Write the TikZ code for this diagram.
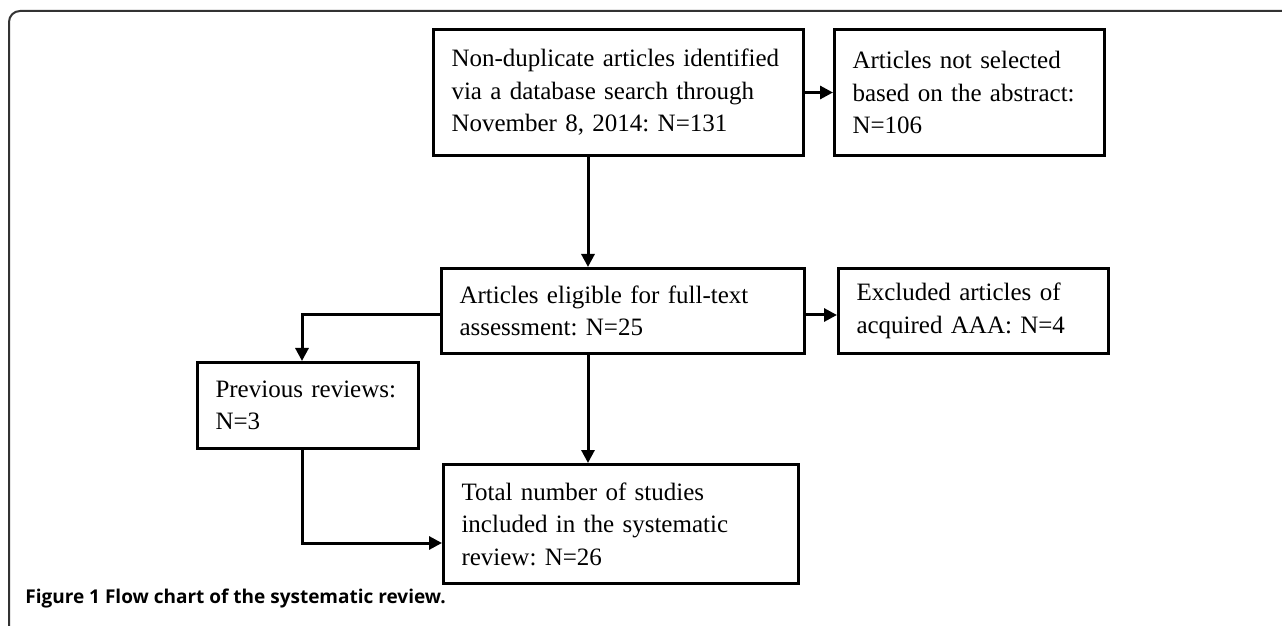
\documentclass[tikz,border=0pt]{standalone}
\usepackage{fontspec}
\setmainfont{Liberation Serif}
\newfontfamily\capfont{Open Sans}
\usepackage{tikz}
\usetikzlibrary{arrows.meta}
\frenchspacing

\begin{document}
\begin{tikzpicture}[x=1pt,y=-1pt,
  box/.style={draw,line width=1.5pt,anchor=north west,align=left,inner xsep=9pt,
    font=\fontsize{12.5}{16.25}\selectfont},
  link/.style={line width=1.5pt,-{Triangle[length=6.5pt,width=6.5pt]}},
  frame/.style={line width=1pt,draw=black!80,rounded corners=5.5pt}]
  \useasboundingbox (0,0) rectangle (641,313);
  \draw[frame] (641,5.5) -- (4.5,5.5) -- (4.5,313);

  \node[box,text width=167pt,minimum height=63pt] (search) at (216,14)
    {Non-duplicate articles identified\\via a database search through\\November 8, 2014: N=131};
  \node[box,text width=117pt,minimum height=63pt] (notsel) at (416.5,14)
    {Articles not selected\\based on the abstract:\\N=106};
  \node[box,text width=163.5pt,minimum height=42.5pt] (eligible) at (220,133.5)
    {Articles eligible for full-text\\assessment: N=25};
  \node[box,text width=117pt,minimum height=42.5pt] (excluded) at (418.5,133.5)
    {Excluded articles of\\acquired AAA: N=4};
  \node[box,text width=92.5pt,minimum height=43pt] (previous) at (98,180.5)
    {Previous reviews:\\N=3};
  \node[box,text width=159.5pt,minimum height=59.5pt] (total) at (221,231.5)
    {Total number of studies\\included in the systematic\\review: N=26};

  \coordinate (trunk) at (294,0);
  \coordinate (side) at (151,157.5);
  \coordinate (low) at (151,271.5);

  \draw[link] (search.east) -- (notsel.west);
  \draw[link] (search.south -| trunk) -- (eligible.north -| trunk);
  \draw[link] (eligible.east |- side) -- (excluded.west |- side);
  \draw[link] (eligible.west |- side) -| (previous.north -| side);
  \draw[link] (eligible.south -| trunk) -- (total.north -| trunk);
  \draw[link] (previous.south -| side) |- (total.west |- low);

  \node[anchor=west,inner sep=0pt,font=\capfont\bfseries\fontsize{9.5}{11}\selectfont] (caption)
    at (12.5,299.5) {Figure 1 Flow chart of the systematic review.};
\end{tikzpicture}
\end{document}
